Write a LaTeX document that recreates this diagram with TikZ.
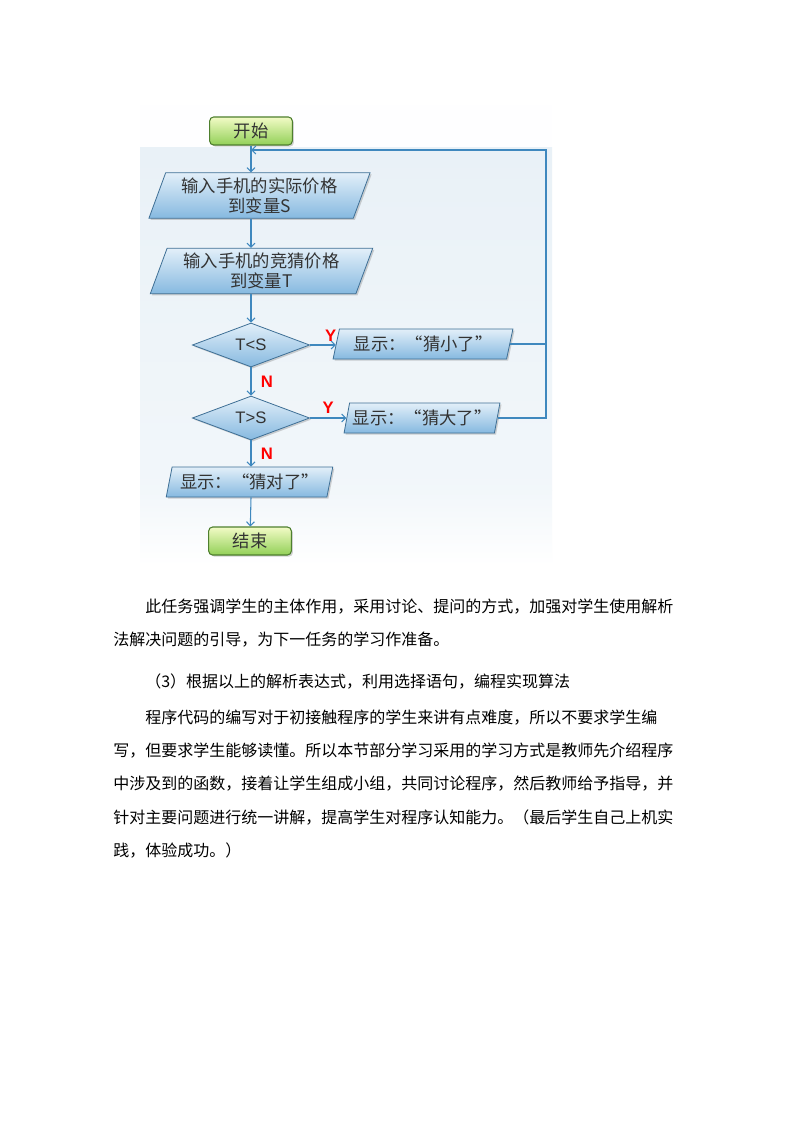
\documentclass[tikz,border=0pt]{standalone}
\usepackage{fontspec}
\setmainfont{Noto Sans CJK SC}
\newfontfamily\latin{Liberation Sans}
\usepackage{tikz}
\usetikzlibrary{shapes.geometric,arrows.meta,shadows}
\definecolor{linkblue}{HTML}{3F88BE}
\definecolor{boxline}{HTML}{3E6F95}
\definecolor{boxtop}{HTML}{E2EFF9}
\definecolor{boxbot}{HTML}{86B9E0}
\definecolor{termline}{HTML}{4E7F2E}
\definecolor{termtop}{HTML}{F2FBC6}
\definecolor{termbot}{HTML}{92D057}
\definecolor{panel}{HTML}{E9F1F7}
\definecolor{labelgray}{HTML}{333333}

\tikzset{
  terminal/.style={rectangle, rounded corners=3pt, draw=termline, line width=0.8pt,
    top color=termtop, bottom color=termbot, minimum width=62pt, minimum height=21pt,
    inner sep=0pt, text=labelgray, font=\fontsize{13pt}{15pt}\selectfont,
    drop shadow={shadow xshift=1.2pt, shadow yshift=-1.2pt, opacity=0.35}},
  inbox/.style={trapezium, trapezium left angle=70, trapezium right angle=110,
    trapezium stretches=true, draw=boxline, line width=0.6pt,
    top color=boxtop, bottom color=boxbot, minimum height=34pt, inner sep=1pt,
    align=center, text=labelgray, font=\fontsize{13pt}{15pt}\selectfont,
    drop shadow={shadow xshift=1.2pt, shadow yshift=-1.2pt, opacity=0.35}},
  outbox/.style={inbox, trapezium left angle=74, trapezium right angle=106,
    minimum height=22.5pt},
  decide/.style={diamond, aspect=2.6, draw=boxline, line width=0.6pt,
    top color=boxtop, bottom color=boxbot, minimum width=88pt, minimum height=33pt,
    inner sep=0pt, text=labelgray, font=\latin\fontsize{12.5pt}{14pt}\selectfont,
    drop shadow={shadow xshift=1.2pt, shadow yshift=-1.2pt, opacity=0.35}},
  flow/.style={draw=linkblue, line width=0.8pt, -{Straight Barb[length=3pt,width=6pt]}},
  link/.style={draw=linkblue, line width=0.8pt},
  yn/.style={text=red, font=\latin\bfseries\fontsize{12.5pt}{14pt}\selectfont, inner sep=1pt},
  para/.style={anchor=west, inner sep=0pt, font=\fontsize{12pt}{14pt}\selectfont}
}

\begin{document}
\begin{tikzpicture}[x=0.75pt, y=-0.75pt]
\useasboundingbox[fill=white] (0,0) rectangle (794,1123);

% Fons
\fill[white!97!panel] (140,105) rectangle (552,562);
\shade[top color=panel, bottom color=panel!60!white] (140,148) rectangle (552,490);
\shade[top color=panel!60!white, bottom color=white!97!panel] (140,490) rectangle (552,562);

% Caixes
\node[terminal] (start) at (251,131) {开始};
\node[inbox, minimum width=166pt] (in1) at (259.5,195.5) {输入手机的实际价格\\到变量S};
\node[inbox, minimum width=167pt] (in2) at (261.5,271) {输入手机的竞猜价格\\到变量T};
\node[decide] (lt) at (251,345) {T<S};
\node[decide] (gt) at (251,418) {T>S};
\node[outbox, minimum width=135pt] (small) at (423,344) {显示：“猜小了”};
\node[outbox, minimum width=117pt] (big) at (422,418) {显示：“猜大了”};
\node[outbox, minimum width=125pt] (ok) at (249.5,482) {显示：“猜对了”};
\node[terminal] (stop) at (250,541) {结束};
\coordinate (loop) at (546,150);

% Fletxes
\draw[flow] (start) -- (start |- in1.north);
\draw[flow] (start |- in1.south) -- (start |- in2.north);
\draw[flow] (start |- in2.south) -- (lt);
\draw[flow] (lt) -- (gt) node[midway, right=6pt, yn] {N};
\draw[flow] (gt) -- (gt |- ok.north) node[midway, right=6pt, yn] {N};
\draw[flow] (gt |- ok.south) -- (stop);
\draw[flow] (lt.east) -- (lt.east -| small.west) node[pos=0.8, above=1pt, yn] {Y};
\draw[flow] (gt.east) -- (gt.east -| big.west) node[midway, above=2pt, yn] {Y};

% Tornada
\draw[link] (small.east) -- (small.east -| loop);
\draw[flow] (big.east) -- (big.east -| loop) -- (loop) -- (start |- loop);

% Text
\node[para] (p1) at (145,607) {此任务强调学生的主体作用，采用讨论、提问的方式，加强对学生使用解析};
\node[para] (p2) at (113,640) {法解决问题的引导，为下一任务的学习作准备。};
\node[para] (p3) at (145,682) {（3）根据以上的解析表达式，利用选择语句，编程实现算法};
\node[para] (p4) at (145,718) {程序代码的编写对于初接触程序的学生来讲有点难度，所以不要求学生编};
\node[para] (p5) at (113,751) {写，但要求学生能够读懂。所以本节部分学习采用的学习方式是教师先介绍程序};
\node[para] (p6) at (113,784) {中涉及到的函数，接着让学生组成小组，共同讨论程序，然后教师给予指导，并};
\node[para] (p7) at (113,817) {针对主要问题进行统一讲解，提高学生对程序认知能力。（最后学生自己上机实};
\node[para] (p8) at (113,850) {践，体验成功。）};

\end{tikzpicture}
\end{document}
